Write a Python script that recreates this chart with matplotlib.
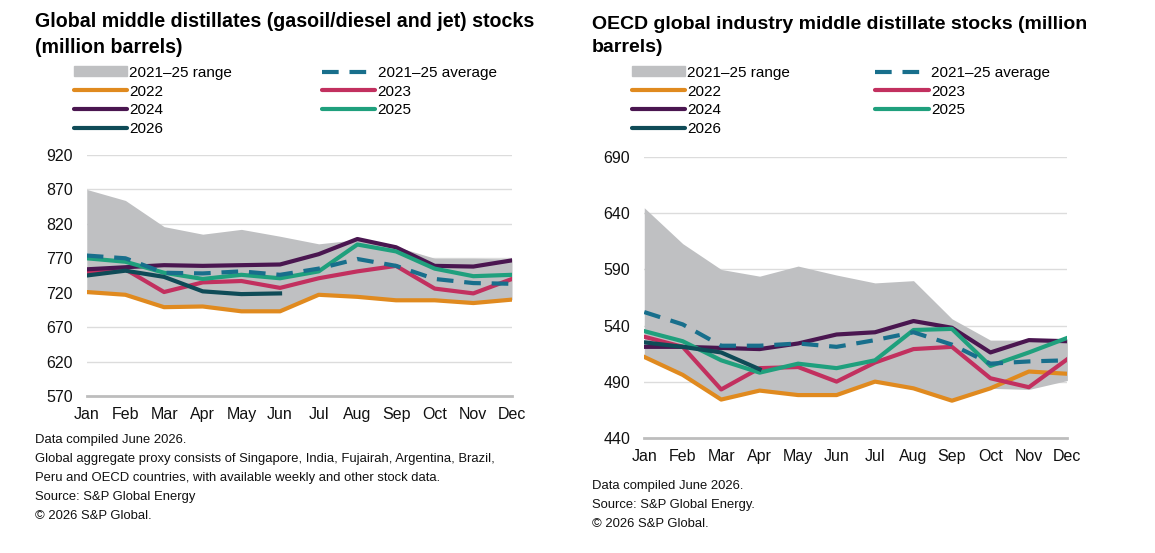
import numpy as np
import matplotlib
matplotlib.use("Agg")
import matplotlib.pyplot as plt
from matplotlib.patches import Patch
from matplotlib.lines import Line2D

plt.rcParams['font.family'] = ['Liberation Sans', 'DejaVu Sans']

months = ["Jan", "Feb", "Mar", "Apr", "May", "Jun", "Jul", "Aug", "Sep", "Oct", "Nov", "Dec"]

# left chart: global middle distillates
l_hi = [870, 854, 816, 805, 812, 802, 791, 797, 787, 770, 770, 769]
l_lo = [721, 717, 699, 700, 693, 693, 717, 714, 709, 709, 705, 710]
l_2022 = [721, 717, 699, 700, 693, 693, 717, 714, 709, 709, 705, 710]
l_2023 = [750, 754, 721, 735, 737, 727, 741, 751, 759, 726, 719, 740]
l_2024 = [754, 757, 760, 759, 760, 761, 776, 798, 786, 759, 758, 767]
l_2025 = [770, 765, 749, 740, 746, 741, 751, 790, 780, 755, 744, 746]
l_2026 = [745, 752, 743, 722, 718, 719]
l_avg = [774, 770, 749, 748, 751, 746, 755, 769, 759, 740, 734, 733]

# right chart: OECD industry middle distillates
r_hi = [645, 613, 590, 584, 593, 585, 578, 580, 546, 527, 527, 528]
r_lo = [512, 496, 474, 482, 478, 478, 490, 484, 473, 484, 483, 491]
r_2022 = [512, 496, 474, 482, 478, 478, 490, 484, 473, 484, 499, 497]
r_2023 = [530, 521, 483, 502, 503, 490, 507, 519, 521, 493, 485, 510]
r_2024 = [521, 521, 520, 519, 524, 532, 534, 544, 538, 516, 527, 526]
r_2025 = [535, 526, 509, 498, 506, 502, 509, 536, 537, 504, 516, 529]
r_2026 = [525, 521, 516, 501]
r_avg = [552, 541, 522, 522, 524, 521, 527, 534, 523, 506, 508, 509]

c_range = "#bfc0c2"
c22 = "#e08a1f"
c23 = "#c2305f"
c24 = "#4a1650"
c25 = "#1fa07d"
c26 = "#0f4b57"
cavg = "#186f8c"
lw = 3.0

fig = plt.figure(figsize=(11.55, 5.53), dpi=100)


def draw(ax, hi, lo, y22, y23, y24, y25, y26, yavg, ticks):
    x = np.arange(12)
    ax.fill_between(x, lo, hi, color=c_range, lw=0, zorder=1)
    ax.plot(x, y22, color=c22, lw=lw, zorder=3)
    ax.plot(x, y23, color=c23, lw=lw, zorder=3)
    ax.plot(x, y24, color=c24, lw=lw, zorder=3)
    ax.plot(x, y25, color=c25, lw=lw, zorder=3)
    ax.plot(x, yavg, color=cavg, lw=lw, dashes=(4, 2.6), zorder=4)
    ax.plot(np.arange(len(y26)), y26, color=c26, lw=lw, zorder=5)
    ax.set_xlim(0, 11)
    ax.set_ylim(ticks[0], ticks[-1])
    ax.set_yticks(ticks)
    ax.set_xticks(x)
    ax.set_xticklabels(months)
    for s in ax.spines.values():
        s.set_visible(False)
    ax.tick_params(length=0, labelsize=11.5, colors="#111111", pad=8)
    ax.tick_params(axis="y", pad=10)
    for t in ticks[1:]:
        ax.axhline(t, color="#dcdcdc", lw=1, zorder=0)
    ax.axhline(ticks[0], color="#bdbdbd", lw=2, zorder=0, clip_on=False)


axl = fig.add_axes([0.0751, 0.2839, 0.3682, 0.4358])
draw(axl, l_hi, l_lo, l_2022, l_2023, l_2024, l_2025, l_2026, l_avg,
     [570, 620, 670, 720, 770, 820, 870, 920])
axr = fig.add_axes([0.5578, 0.2085, 0.3663, 0.5071])
draw(axr, r_hi, r_lo, r_2022, r_2023, r_2024, r_2025, r_2026, r_avg,
     [440, 490, 540, 590, 640, 690])

fig.text(35 / 1155, 1 - 12 / 553, "Global middle distillates (gasoil/diesel and jet) stocks\n(million barrels)",
         fontsize=14.1, fontweight="bold", va="top", ha="left", linespacing=1.45)
fig.text(592 / 1155, 1 - 16 / 553, "OECD global industry middle distillate stocks (million\nbarrels)",
         fontsize=14, fontweight="bold", va="top", ha="left", linespacing=1.45)

handles = [Patch(color=c_range),
           Line2D([], [], color=c22, lw=lw, solid_capstyle="round"),
           Line2D([], [], color=c24, lw=lw, solid_capstyle="round"),
           Line2D([], [], color=c26, lw=lw, solid_capstyle="round"),
           Line2D([], [], color=cavg, lw=lw, dashes=(4, 2.6)),
           Line2D([], [], color=c23, lw=lw, solid_capstyle="round"),
           Line2D([], [], color=c25, lw=lw, solid_capstyle="round")]
labels = ["2021\u201325 range", "2022", "2024", "2026", "2021\u201325 average", "2023", "2025"]

for x0, cs in ((66 / 1155, 5.86), (624 / 1155, 5.55)):
    fig.legend(handles, labels, loc="upper left", bbox_to_anchor=(x0, 1 - 58 / 553),
               ncol=2, frameon=False, fontsize=11, handlelength=3.5, handleheight=0.6,
               handletextpad=0.15, columnspacing=cs, labelspacing=0.32, borderpad=0)

fig.text(35 / 1155, 1 - 434 / 553,
         "Data compiled June 2026.\n"
         "Global aggregate proxy consists of Singapore, India, Fujairah, Argentina, Brazil,\n"
         "Peru and OECD countries, with available weekly and other stock data.\n"
         "Source: S&P Global Energy\n"
         "\u00a9 2026 S&P Global.",
         fontsize=9.4, va="top", ha="left", linespacing=1.78, color="#111111")
fig.text(592 / 1155, 1 - 480 / 553,
         "Data compiled June 2026.\n"
         "Source: S&P Global Energy.\n"
         "\u00a9 2026 S&P Global.",
         fontsize=9.4, va="top", ha="left", linespacing=1.78, color="#111111")

fig.savefig("out.png", dpi=100)
